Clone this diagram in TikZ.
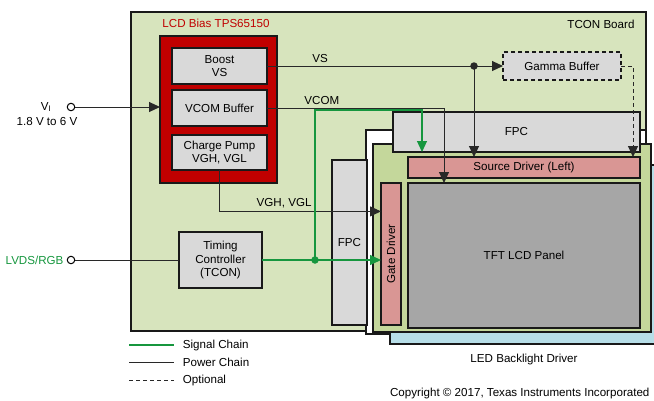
\documentclass[tikz,border=0pt]{standalone}
\usepackage{fontspec}
\setmainfont{Liberation Sans}
\usetikzlibrary{arrows.meta,calc}

\definecolor{boardgreen}{RGB}{215,228,189}
\definecolor{panelgreen}{RGB}{196,215,155}
\definecolor{backblue}{RGB}{183,222,232}
\definecolor{boxgrey}{RGB}{217,217,217}
\definecolor{drvpink}{RGB}{217,150,148}
\definecolor{tftgrey}{RGB}{166,166,166}
\definecolor{biasred}{RGB}{192,0,0}
\definecolor{siggreen}{RGB}{22,150,62}
\definecolor{wire}{RGB}{40,40,40}

\begin{document}
\begin{tikzpicture}[
    x=1pt, y=-1pt,
    font=\fontsize{11.6}{13.5}\selectfont,
    blk/.style={draw=black!90, line width=1.1pt, inner sep=0pt, outer sep=0pt},
    greybox/.style={blk, fill=boxgrey, align=center},
    pinkbox/.style={blk, fill=drvpink},
    power/.style={draw=wire, line width=1pt},
    signal/.style={draw=siggreen, line width=1.1pt},
    optional/.style={power, dash pattern=on 4pt off 3pt},
    tip/.style={-{Triangle[length=11pt,width=10pt]}},
    port/.style={circle, draw=black, line width=1pt, fill=white,
      inner sep=0pt, minimum size=7.5pt},
    junction/.style={circle, inner sep=0pt, minimum size=7.5pt}
  ]
  \useasboundingbox (0,0) rectangle (654,400);

  % TCON board and panel stack
  \node[blk, fill=boardgreen, minimum width=515pt, minimum height=319pt] (board) at (388.5,171.5) {};
  \node[anchor=east] (boardlbl) at (638,24) {TCON Board};
  \node[blk, fill=white, minimum width=280pt, minimum height=204pt] (glass) at (506,232) {};
  \node[blk, fill=backblue, minimum width=280pt, minimum height=179pt] (backlight) at (530,254.5) {};
  \node[blk, fill=panelgreen, minimum width=278pt, minimum height=188pt] (panel) at (512,238) {};
  \node[greybox, minimum width=247pt, minimum height=40pt] (fpctop) at (516.5,132) {FPC};
  \node[greybox, minimum width=35pt, minimum height=165pt] (fpcleft) at (349.5,242.5) {FPC};
  \node[pinkbox, minimum width=232pt, minimum height=21pt] (source) at (524,167.5) {Source Driver (Left)};
  \node[blk, fill=tftgrey, minimum width=232pt, minimum height=145pt] (tft) at (524,255.5) {TFT LCD Panel};
  \node[pinkbox, minimum width=20pt, minimum height=142pt] (gate) at (391,254) {};
  \node[rotate=90] (gatelbl) at (gate.center) {Gate Driver};
  \node (ledlbl) at (524,359) {LED Backlight Driver};

  % LCD bias
  \node[text=biasred] (biaslbl) at (216,23) {LCD Bias TPS65150};
  \node[blk, fill=biasred, minimum width=117pt, minimum height=147pt] (bias) at (218.5,109.5) {};
  \node[greybox, minimum width=95pt, minimum height=36pt] (boost) at (219.5,66) {Boost\\VS};
  \node[greybox, minimum width=95pt, minimum height=36pt] (vcom) at (219.5,108) {VCOM Buffer};
  \node[greybox, minimum width=95pt, minimum height=35pt] (pump) at (219.5,152.5) {Charge Pump\\VGH, VGL};
  \node[greybox, dash pattern=on 4pt off 3pt, minimum width=118pt,
    minimum height=28pt] (gamma) at (562,66) {Gamma Buffer};

  % timing controller
  \node[greybox, minimum width=83pt, minimum height=56pt] (tcon) at (220.5,260)
    {Timing\\Controller\\(TCON)};

  % inputs
  \node[port] (vin) at (71,107) {};
  \node (vinlbl) at (46,107) {V$_\mathrm{I}$};
  \node (vinrange) at (47,122) {1.8 V to 6 V};
  \node[port] (lvds) at (71,260) {};
  \node[anchor=east, text=siggreen] (lvdslbl) at (67,260) {LVDS/RGB};

  % power chain
  \draw[power, tip] (vin.east) -- (vin.east -| bias.west);
  \draw[power, tip] (boost.east) -- node[pos=0.225, above] {VS} (boost.east -| gamma.west);
  \node[junction, fill=wire] (vsdot) at (474,66) {};
  \draw[power, tip] (vsdot.center) -- (vsdot |- source.north);
  \draw[power, tip] (vcom.east) -| node[pos=0.155, above] {VCOM} ([xshift=36pt]tft.north west);
  \draw[power, tip] (pump.south) |- node[pos=0.70, above] {VGH, VGL}
    ($(gate.north west)!0.2!(gate.south west)$);
  \draw[optional, tip] (gamma.east) -| ([xshift=-7pt]source.north east);

  % signal chain
  \draw[power] (lvds.east) -- (tcon.west);
  \draw[signal, tip] (tcon.east) -- (tcon.east -| gate.west);
  \node[junction, fill=siggreen] (sigdot) at (315,260) {};
  \coordinate (sigturn) at (422,110);
  \draw[signal, tip] (sigdot.center) |- (sigturn) -- (sigturn |- fpctop.south);

  % legend
  \coordinate (lg1) at (129,345);
  \coordinate (lg2) at (129,362);
  \coordinate (lg3) at (129,380);
  \draw[signal] (lg1) -- ++(45,0) node[right=5pt] (lgsig) {Signal Chain};
  \draw[power] (lg2) -- ++(45,0) node[right=5pt] (lgpow) {Power Chain};
  \draw[optional] (lg3) -- ++(45,0) node[right=5pt] (lgopt) {Optional};

  \node[anchor=east] (copy) at (653,393) {Copyright \textcopyright{} 2017, Texas Instruments Incorporated};
\end{tikzpicture}
\end{document}
